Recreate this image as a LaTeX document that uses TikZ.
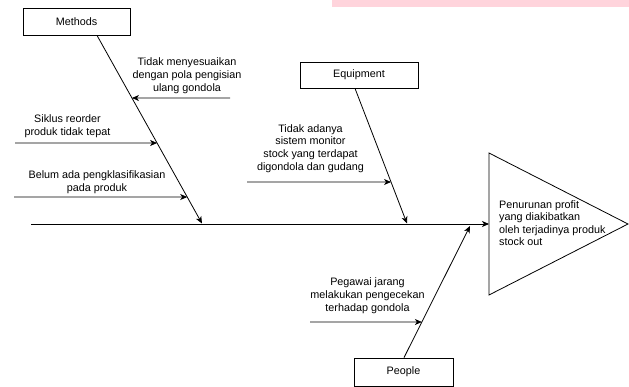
\documentclass[tikz,border=0pt]{standalone}
\usepackage{fontspec}
\setmainfont{Liberation Sans}
\usetikzlibrary{arrows.meta,calc}
\definecolor{barpink}{RGB}{255,212,220}
\tikzset{
  catbox/.style={draw=black, line width=0.8pt, rectangle, inner sep=0pt, fill=white,
    font=\fontsize{10.8}{12.8}\selectfont},
  bone/.style={draw=black, line width=0.8pt, -{Stealth[length=7pt,width=6pt,inset=2pt]}},
  lbl/.style={inner sep=0pt, align=center, font=\fontsize{10.8}{12.8}\selectfont},
  headlbl/.style={inner sep=0pt, align=left, anchor=west, font=\fontsize{10.8}{12.4}\selectfont},
  headtri/.style={draw=black, line width=0.8pt, line join=miter}
}
\begin{document}
\begin{tikzpicture}[x=1pt,y=-1pt]
\useasboundingbox (0,0) rectangle (629,387);
% top pink strip
\fill[barpink] (332,0) rectangle (629,7.5);

% category boxes
\node[catbox, minimum width=107pt, minimum height=27pt] (mth) at (76.5,21.5) {Methods};
\node[catbox, minimum width=118pt, minimum height=26pt] (eqp) at (359,75) {Equipment};
\node[catbox, minimum width=99pt, minimum height=28pt] (ppl) at (403.5,372) {People};

% head triangle
\coordinate (tritop) at (489,153);
\coordinate (tribot) at (489,295);
\coordinate (triapex) at (628,224);
\coordinate (trileft) at (489,224);
\draw[headtri] (tritop) -- (triapex) -- (tribot) -- cycle;
\node[headlbl] (head) at (499,223) {Penurunan profit\\yang diakibatkan\\oleh terjadinya produk\\stock out};

% spine
\coordinate (spinestart) at (31,224);
\draw[bone] (spinestart) -- (trileft);

% bones
\coordinate (mstart) at ($(mth.south)+(20.5,0)$);
\coordinate (mtip) at (202,223.5);
\draw[bone] (mstart) -- (mtip);
\coordinate (estart) at ($(eqp.south)+(-4,0)$);
\coordinate (etip) at (407,223.5);
\draw[bone] (estart) -- (etip);
\coordinate (pstart) at ($(ppl.north)+(0.5,0)$);
\coordinate (ptip) at (470,226);
\draw[bone] (pstart) -- (ptip);

% causes
\coordinate (c1) at (230,98);   \coordinate (c1far) at (0,98);
\coordinate (c2) at (15,143);   \coordinate (c2far) at (629,143);
\coordinate (c3) at (14,197);   \coordinate (c3far) at (629,197);
\coordinate (c4) at (247,182);  \coordinate (c4far) at (629,182);
\coordinate (c5) at (310,322);  \coordinate (c5far) at (629,322);
\draw[bone] (c1) -- (intersection of c1--c1far and mstart--mtip);
\draw[bone] (c2) -- (intersection of c2--c2far and mstart--mtip);
\draw[bone] (c3) -- (intersection of c3--c3far and mstart--mtip);
\draw[bone] (c4) -- (intersection of c4--c4far and estart--etip);
\draw[bone] (c5) -- (intersection of c5--c5far and pstart--ptip);

% cause labels
\node[lbl] (l1) at (187,75.8) {Tidak menyesuaikan\\dengan pola pengisian\\ulang gondola};
\node[lbl] (l2) at (67.5,126) {Siklus reorder\\produk tidak tepat};
\node[lbl] (l3) at (97,182) {Belum ada pengklasifikasian\\pada produk};
\node[lbl] (l4) at (310.5,148.5) {Tidak adanya\\sistem monitor\\stock yang terdapat\\digondola dan gudang};
\node[lbl] (l5) at (367.5,296) {Pegawai jarang\\melakukan pengecekan\\terhadap gondola};
\end{tikzpicture}
\end{document}
